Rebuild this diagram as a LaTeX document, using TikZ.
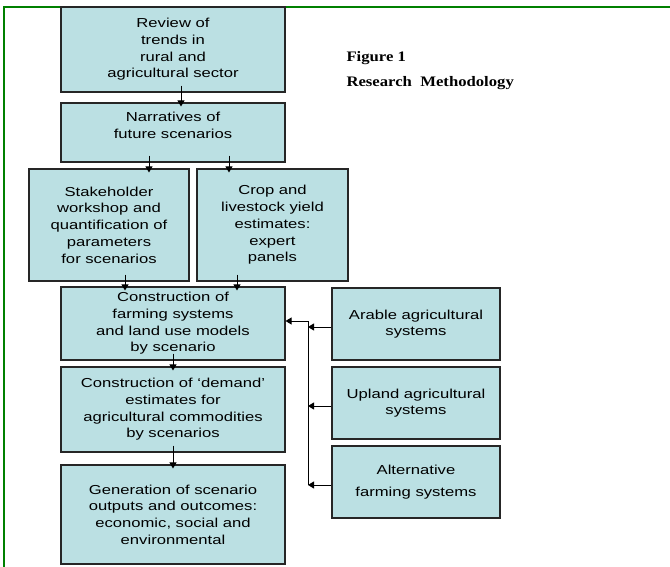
\documentclass[tikz,border=0pt]{standalone}
\usepackage{fontspec}
\newfontfamily\boxfont[FakeStretch=1.28]{Liberation Sans}
\newfontfamily\titlefont[FakeStretch=1.15]{Liberation Serif}
\usetikzlibrary{arrows.meta,positioning,calc}
\definecolor{boxfill}{RGB}{187,224,227}
\definecolor{framegreen}{RGB}{0,128,0}

\begin{document}
\begin{tikzpicture}[
  x=1pt, y=-1pt,
  >={Triangle[length=6pt,width=7pt]},
  every node/.style={font=\boxfont\fontsize{13}{16.7}\selectfont},
  procbox/.style={draw=black!85, line width=1.1pt, fill=boxfill,
    align=center, inner sep=0pt},
  flow/.style={->, line width=1pt},
  down/.style={flow, shorten <=-7pt, shorten >=-4pt},
  heading/.style={anchor=base west, font=\titlefont\bfseries\fontsize{14.5}{16}\selectfont},
]
\useasboundingbox (0,0) rectangle (670,567);

% frame
\draw[framegreen, line width=1.5pt] (4,567) -- (4,7) -- (670,7);

% left column
\node[procbox, minimum width=224pt, minimum height=85pt] (review) at (173,49.5)
  {Review of\\trends in\\rural and\\agricultural sector};
\node[procbox, minimum width=224pt, minimum height=59pt, label={[align=center, yshift=7pt]center:{Narratives of\\future scenarios}}] (narr) at (173,132.5) {};
\node[procbox, minimum width=160pt, minimum height=112pt] (stake) at (109,225)
  {Stakeholder\\workshop and\\quantification of\\parameters\\for scenarios};
\node[procbox, minimum width=151pt, minimum height=112pt] (crop) at (272.5,225)
  {Crop and\\livestock yield\\estimates:\\expert\\panels};
\node[procbox, minimum width=224pt, minimum height=73pt] (farm) at (173,323.5)
  {Construction of\\farming systems\\and land use models\\by scenario};
\node[procbox, minimum width=224pt, minimum height=85pt] (demand) at (173,409.5)
  {Construction of ‘demand’\\estimates for\\agricultural commodities\\by scenarios};
\node[procbox, minimum width=224pt, minimum height=99pt] (outputs) at (173,514.5)
  {Generation of scenario\\outputs and outcomes:\\economic, social and\\environmental};

% right column
\node[procbox, minimum width=168pt, minimum height=72pt] (arable) at (416,324)
  {Arable agricultural\\systems};
\node[procbox, minimum width=168pt, minimum height=72pt] (upland) at (416,403)
  {Upland agricultural\\systems};
\node[procbox, minimum width=168pt, minimum height=72pt] (altern) at (416,482)
  {Alternative\\[6pt]farming systems};

% title
\node[heading] (fig) at (343,62) {Figure 1};
\node[heading] (meth) at (343,87) {Research~~Methodology};

% vertical flow
\draw[down] ([xshift=8pt]review.south) -- ([xshift=8pt]narr.north);
\draw[down] (narr.south -| 149,0) -- (stake.north -| 149,0);
\draw[down] (narr.south -| 229,0) -- (crop.north -| 229,0);
\draw[down] (stake.south -| 125,0) -- (farm.north -| 125,0);
\draw[down] (crop.south -| 237,0) -- (farm.north -| 237,0);
\draw[down] (farm.south) -- (demand.north);
\draw[down] (demand.south) -- (outputs.north);

% feed from the systems
\coordinate (jtop) at (308,321);
\coordinate (jbot) at (308,485);
\draw[line width=1pt] (jbot) -- (jtop);
\draw[flow] (jtop) -- (jtop -| farm.east);
\draw[flow] ([yshift=-3pt]arable.west) -- ([yshift=-3pt]arable.west -| jtop);
\draw[flow] ([yshift=-3pt]upland.west) -- ([yshift=-3pt]upland.west -| jtop);
\draw[flow] ([yshift=-3pt]altern.west) -- ([yshift=-3pt]altern.west -| jtop);
\end{tikzpicture}
\end{document}
